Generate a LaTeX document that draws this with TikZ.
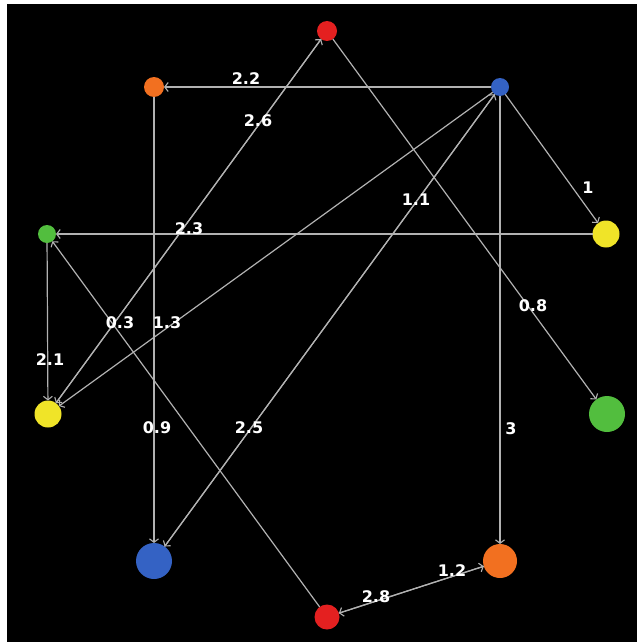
\documentclass[tikz,border=0pt]{standalone}
\usepackage{fontspec}
\setmainfont{DejaVu Sans}
\usetikzlibrary{arrows.meta}
\definecolor{cred}{RGB}{228,32,32}
\definecolor{corange}{RGB}{242,112,32}
\definecolor{cblue}{RGB}{52,98,196}
\definecolor{cgreen}{RGB}{82,190,62}
\definecolor{cyellow}{RGB}{240,228,40}
\definecolor{cline}{RGB}{178,178,178}
\tikzset{
  vert/.style={circle, inner sep=0pt, outer sep=0pt, minimum size=#1},
  edge/.style={draw=cline, line width=1.2pt, -{Straight Barb[length=3.5pt,width=9pt,line width=1.1pt]}},
  lbl/.style={text=white, font=\fontsize{16}{16}\selectfont\bfseries, inner sep=0pt}
}
\begin{document}
\begin{tikzpicture}[x=1pt,y=-1pt]
\useasboundingbox (0,0) rectangle (637,642);
\fill[white] (0,0) rectangle (637,642);
\fill[black] (7,4) rectangle (637,642);
% vertices
\node[vert=20pt, fill=cred]    (rt) at (327,31) {};
\node[vert=20pt, fill=corange] (ot) at (154,87) {};
\node[vert=18pt, fill=cblue]   (bs) at (500,87) {};
\node[vert=18pt, fill=cgreen]  (gs) at (47,234) {};
\node[vert=27pt, fill=cyellow] (yr) at (606,234) {};
\node[vert=27pt, fill=cyellow] (yl) at (48,414) {};
\node[vert=36pt, fill=cgreen]  (gb) at (607,414) {};
\node[vert=36pt, fill=cblue]   (bb) at (154,561) {};
\node[vert=34pt, fill=corange] (ob) at (500,561) {};
\node[vert=25pt, fill=cred]    (rb) at (327,617) {};
% edges
\draw[edge] (bs) -- (ot);
\draw[edge] (yl) -- (rt);
\draw[edge] (rt) -- (yl);
\draw[edge] (rt) -- (gb);
\draw[edge] (bs) -- (yr);
\draw[edge] (yr) -- (gs);
\draw[edge] (gs) -- (yl);
\draw[edge] (bs) -- (yl);
\draw[edge] (bb) -- (bs);
\draw[edge] (bs) -- (bb);
\draw[edge] (bs) -- (ob);
\draw[edge] (ot) -- (bb);
\draw[edge] (ob) -- (rb);
\draw[edge] (rb) -- (ob);
\draw[edge] (rb) -- (gs);
% labels
\node[lbl] (l22) at (246,79) {2.2};
\node[lbl] (l26) at (258,121) {2.6};
\node[lbl] (l23) at (189,229) {2.3};
\node[lbl] (l03) at (120,323) {0.3};
\node[lbl] (l13) at (167,323) {1.3};
\node[lbl] (l21) at (50,360) {2.1};
\node[lbl] (l09) at (157,428) {0.9};
\node[lbl] (l11) at (416,200) {1.1};
\node[lbl] (l1)  at (588,188) {1};
\node[lbl] (l08) at (533,306) {0.8};
\node[lbl] (l3)  at (511,429) {3};
\node[lbl] (l25) at (249,428) {2.5};
\node[lbl] (l28) at (376,597) {2.8};
\node[lbl] (l12) at (452,571) {1.2};
\end{tikzpicture}
\end{document}
